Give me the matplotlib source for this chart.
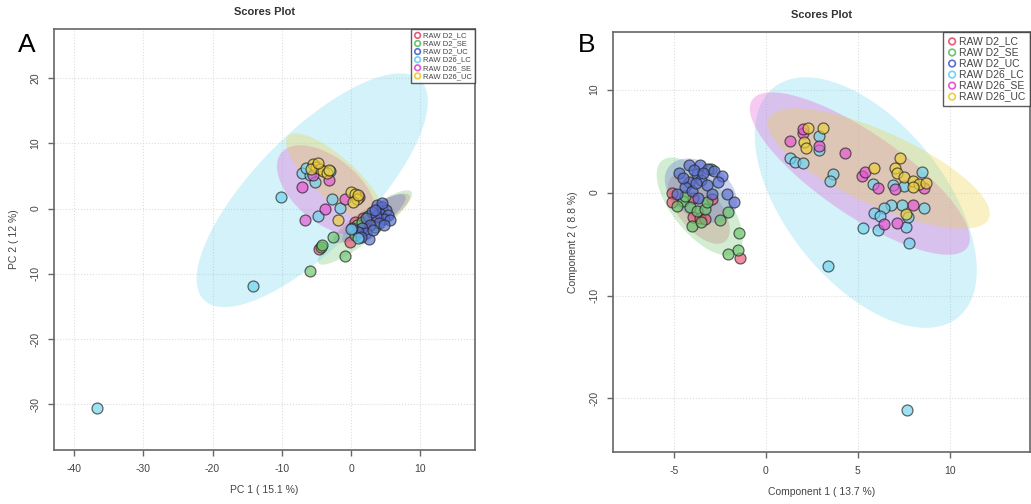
import matplotlib
matplotlib.use("Agg")
import matplotlib.pyplot as plt
import numpy as np

plt.rcParams["font.family"] = ["Liberation Sans", "DejaVu Sans"]
plt.rcParams["axes.unicode_minus"] = False

# Group names and colours (same order everywhere)
groups = ["RAW D2_LC", "RAW D2_SE", "RAW D2_UC", "RAW D26_LC", "RAW D26_SE", "RAW D26_UC"]
colors = ["#e85a78", "#6cc46c", "#5a6fd2", "#6fd4ee", "#e655d2", "#ecd03c"]

# ---- Panel A: PCA scores (PC1, PC2) ----
a_d2_lc = [(-0.1, -5.1), (1.5, -3.3), (2.0, -2.3), (0.5, -2.0), (3.0, -1.8), (1.7, -1.4), (-4.6, -6.2)]
a_d2_se = [(-5.9, -9.6), (-0.9, -7.2), (-4.4, -5.9), (-4.2, -5.6), (-2.6, -4.3), (0.8, -2.5),
           (1.6, -2.0), (2.5, -1.2), (3.4, -2.8), (0.5, -4.0)]
a_d2_uc = [(3.8, 0.5), (4.5, 0.3), (5.0, -0.2), (4.2, -0.8), (5.3, -1.0), (4.7, -1.6), (3.6, -1.2),
           (5.6, -1.8), (4.0, -2.2), (3.0, -0.6), (2.2, -1.5), (2.8, -2.6), (1.6, -3.0), (2.2, -3.8),
           (1.0, -3.6), (0.2, -3.0), (2.6, -4.6), (1.4, -4.4), (3.2, -3.3), (4.8, -2.6), (4.4, 0.9),
           (3.4, -0.2)]
a_d26_lc = [(-36.7, -30.5), (-14.1, -11.8), (-10.1, 1.8), (-7.1, 5.4), (-5.9, 5.1), (-5.2, 4.0),
            (-3.0, 5.7), (-6.5, 6.2), (-2.7, 1.5), (-1.6, 0.15), (-4.8, -1.2), (0.0, -3.2), (1.0, -4.5)]
a_d26_se = [(-7.1, 3.3), (-3.2, 4.3), (-3.8, 0.0), (-6.6, -1.7), (-0.9, 1.5), (1.2, 1.7), (-5.5, 5.2)]
a_d26_uc = [(-5.5, 6.8), (-5.0, 6.3), (-4.5, 6.0), (-4.0, 5.7), (-3.5, 5.5), (-5.8, 6.0), (-4.8, 7.0),
            (-3.2, 5.9), (0.0, 2.6), (0.5, 2.2), (0.8, 1.5), (0.3, 1.0), (1.0, 2.0), (-1.9, -1.8)]
a_scores = [a_d2_lc, a_d2_se, a_d2_uc, a_d26_lc, a_d26_se, a_d26_uc]

# 95% region of each group: centre, half-extent in x and y, correlation
a_ell_center = [(3.0, -1.5), (2.0, -2.9), (3.3, -1.5), (-5.6, 2.8), (-3.5, 2.8), (-2.3, 4.6)]
a_ell_radius = [(5.5, 3.8), (6.8, 5.7), (4.6, 3.7), (16.7, 17.9), (7.2, 6.9), (7.1, 6.9)]
a_ell_rho = [0.85, 0.9, 0.85, 0.76, -0.53, -0.8]

# ---- Panel B: PLS-DA scores (Component 1, Component 2) ----
b_d2_lc = [(-5.1, 0.0), (-5.1, -0.95), (-3.95, -2.4), (-3.6, -2.5), (-3.3, -2.6), (-1.4, -6.4),
           (-3.95, -0.5), (-2.9, -0.6)]
b_d2_se = [(-2.05, -1.9), (-2.5, -2.7), (-1.47, -3.9), (-1.5, -5.6), (-2.07, -6.0), (-4.5, -0.8),
           (-4.1, -1.4), (-4.85, -1.3), (-4.0, -3.2), (-3.5, -2.9), (-3.75, -1.75), (-3.3, -1.6),
           (-3.0, 2.3), (-4.4, -0.3), (-3.2, -0.9)]
b_d2_uc = [(-4.7, 1.95), (-4.2, 2.7), (-3.6, 2.7), (-3.15, 2.3), (-2.8, 2.1), (-2.4, 1.65), (-2.1, -0.1),
           (-1.75, -0.9), (-3.75, 1.8), (-3.5, 1.2), (-4.2, 1.0), (-4.4, 0.5), (-4.0, 0.2), (-3.2, 0.7),
           (-2.9, -0.1), (-4.8, -0.1), (-3.7, -0.5), (-3.9, 2.2), (-3.4, 1.9), (-2.6, 1.0), (-4.5, 1.4),
           (-3.8, 0.9)]
b_d26_lc = [(7.66, -21.1), (3.37, -7.1), (1.3, 3.4), (1.6, 3.0), (2.0, 2.9), (2.9, 5.5), (2.9, 4.1),
            (3.64, 1.85), (3.5, 1.1), (5.8, 0.8), (6.9, 0.7), (8.5, 2.0), (8.6, -1.5), (7.4, -1.2),
            (6.8, -1.2), (6.4, -1.5), (5.9, -2.0), (6.2, -2.3), (5.3, -3.4), (6.1, -3.6), (7.6, -3.3),
            (7.7, -2.4), (7.8, -4.9), (7.5, 0.6)]
b_d26_se = [(1.3, 5.0), (2.0, 5.8), (2.0, 6.2), (2.9, 4.5), (4.3, 3.8), (5.2, 1.6), (5.4, 2.0), (6.1, 0.4),
            (7.0, 0.3), (8.0, -1.2), (6.4, -3.1), (7.1, -3.0), (8.6, 0.4)]
b_d26_uc = [(2.3, 6.3), (3.1, 6.3), (2.1, 4.9), (2.2, 4.3), (5.9, 2.4), (7.3, 3.4), (7.0, 2.4), (7.1, 1.95),
            (7.5, 1.5), (8.0, 1.1), (8.3, 0.8), (8.7, 0.9), (7.6, -2.1), (8.0, 0.5)]
b_scores = [b_d2_lc, b_d2_se, b_d2_uc, b_d26_lc, b_d26_se, b_d26_uc]

b_ell_center = [(-3.64, -1.56), (-3.59, -1.36), (-3.53, 0.19), (5.43, -0.97), (5.11, 1.85), (6.14, 2.34)]
b_ell_radius = [(1.68, 3.41), (2.34, 4.77), (1.96, 3.12), (6.03, 12.17), (5.98, 7.89), (6.03, 5.84)]
b_ell_rho = [-0.6, -0.65, -0.35, -0.54, -0.8, -0.75]


def ellipse_outline(center, radius, rho, n=200):
    t = np.linspace(0, 2 * np.pi, n)
    x = center[0] + radius[0] * np.cos(t)
    y = center[1] + radius[1] * (rho * np.cos(t) + np.sqrt(1 - rho ** 2) * np.sin(t))
    return x, y


def draw_panel(ax, scores, centers, radii, rhos, xlim, ylim, xticks, yticks, xlabel, ylabel, legend_size):
    for c, r, rho, col in zip(centers, radii, rhos, colors):
        ex, ey = ellipse_outline(c, r, rho)
        ax.fill(ex, ey, color=col, alpha=0.3, lw=0, zorder=1)
    for pts, col in zip(scores, colors):
        pts = np.array(pts)
        ax.scatter(pts[:, 0], pts[:, 1], s=62, facecolor=col, edgecolor="#222222",
                   linewidth=0.9, alpha=0.68, zorder=3)
    ax.set_xlim(*xlim)
    ax.set_ylim(*ylim)
    ax.set_xticks(xticks)
    ax.set_yticks(yticks)
    ax.grid(True, color="#dddddd", linestyle=":", linewidth=0.8, zorder=0)
    ax.set_axisbelow(True)
    for sp in ax.spines.values():
        sp.set_color("#666666")
        sp.set_linewidth(1.2)
    ax.tick_params(direction="out", length=4, width=1, color="#666666", labelsize=7.5,
                   labelcolor="#444444", pad=6)
    for lab in ax.get_yticklabels():
        lab.set_rotation(90)
        lab.set_va("center")
    ax.set_xlabel(xlabel, fontsize=7.5, color="#444444", labelpad=8)
    ax.set_ylabel(ylabel, fontsize=7.5, color="#444444", labelpad=8)
    ax.set_title("Scores Plot", fontsize=8, fontweight="bold", color="#333333", pad=10)
    handles = [ax.scatter([], [], s=legend_size * 3, facecolor="none", edgecolor=col, linewidth=1.2)
               for col in colors]
    leg = ax.legend(handles, groups, loc="upper right", fontsize=legend_size, frameon=True,
                    fancybox=False, borderaxespad=0, handletextpad=0.2, labelspacing=0.1,
                    borderpad=0.4, handlelength=1.0)
    leg.get_frame().set_edgecolor("#333333")
    leg.get_frame().set_linewidth(1.0)
    for t in leg.get_texts():
        t.set_color("#444444")


fig = plt.figure(figsize=(10.31, 5.04), dpi=100)
ax_a = fig.add_axes([0.0524, 0.107, 0.4083, 0.8355])
ax_b = fig.add_axes([0.5946, 0.1032, 0.4044, 0.8333])

draw_panel(ax_a, a_scores, a_ell_center, a_ell_radius, a_ell_rho, (-42.9, 17.9), (-37.0, 27.5),
           [-40, -30, -20, -10, 0, 10], [-30, -20, -10, 0, 10, 20],
           "PC 1 ( 15.1 %)", "PC 2 ( 12 %)", 5.5)
draw_panel(ax_b, b_scores, b_ell_center, b_ell_radius, b_ell_rho, (-8.3, 14.35), (-25.2, 15.6),
           [-5, 0, 5, 10], [-20, -10, 0, 10],
           "Component 1 ( 13.7 %)", "Component 2 ( 8.8 %)", 7.5)

fig.text(18 / 1031, 1 - 45 / 504, "A", fontsize=19, va="center", ha="left")
fig.text(578 / 1031, 1 - 45 / 504, "B", fontsize=19, va="center", ha="left")

fig.savefig("out.png", dpi=100)
